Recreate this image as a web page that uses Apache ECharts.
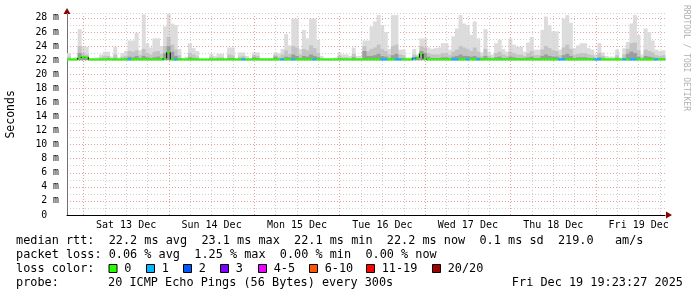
<!DOCTYPE html>
<html><head><meta charset="utf-8">
<script src="https://cdn.jsdelivr.net/npm/echarts@6/dist/echarts.min.js"></script>
<style>html,body{margin:0;padding:0;background:#fff}#c{width:697px;height:297px}</style>
</head><body><div id="c"></div>
<script>
// ---- data: hourly bins from Fri Dec 12 19:23:27 to Fri Dec 19 19:23:27 ----
const binCount = 168;
const firstMidnightHour = 4.609;       // hours from chart start to Sat 13 Dec 00:00
const dayLabels = ['Sat 13 Dec','Sun 14 Dec','Mon 15 Dec','Tue 16 Dec','Wed 17 Dec','Thu 18 Dec','Fri 19 Dec'];

const smokeMax = [
23.0,22.3,22.4,26.4,24.0,23.9,22.3,22.3,22.4,22.8,23.2,23.2,
22.5,23.9,22.4,23.0,23.3,24.8,24.8,25.9,23.4,28.5,24.4,23.8,
25.1,25.1,24.0,26.8,28.6,27.2,27.0,23.6,22.3,22.5,24.4,23.7,
23.3,22.2,22.2,22.2,22.9,22.6,22.9,22.9,22.3,23.8,23.8,22.3,
23.1,23.1,22.6,22.3,23.1,23.1,22.3,22.3,22.3,22.3,23.1,23.0,
23.6,25.7,24.1,27.9,27.9,23.6,26.3,25.1,27.9,27.9,24.9,22.6,
22.3,22.3,22.3,22.4,23.1,22.8,22.8,22.6,23.8,22.6,22.6,24.8,
24.8,26.8,27.5,28.4,27.0,26.0,23.6,28.4,28.4,23.5,23.5,22.4,
22.4,23.6,22.8,25.1,25.1,23.8,23.6,23.7,23.8,24.4,24.4,23.5,
25.4,26.5,28.4,27.2,27.0,25.6,27.5,25.1,23.1,26.4,23.2,22.8,
24.4,24.9,23.6,23.2,25.1,24.2,23.9,23.9,23.2,24.5,25.3,23.5,
23.5,26.3,28.2,27.0,26.1,26.1,23.5,27.9,28.4,27.3,23.7,24.1,
24.4,24.4,23.7,23.5,22.8,24.4,23.1,22.6,22.5,22.5,23.5,22.4,
23.7,24.6,27.2,28.4,25.6,22.8,26.5,26.0,24.8,23.5,23.3,23.4];

const smokeMid = [
22.5,22.2,22.2,24.0,23.0,22.8,22.2,22.2,22.2,22.4,22.6,22.6,
22.3,22.8,22.2,22.5,22.6,23.3,23.2,23.4,22.7,23.6,23.0,22.8,
23.2,23.3,22.9,24.0,25.3,24.2,23.5,22.7,22.2,22.3,23.0,22.8,
22.5,22.1,22.1,22.1,22.5,22.3,22.4,22.4,22.2,22.8,22.7,22.2,
22.5,22.6,22.3,22.2,22.7,22.6,22.2,22.2,22.2,22.2,22.8,22.5,
22.8,23.4,22.9,24.0,23.8,22.8,23.6,23.4,24.1,23.7,23.0,22.3,
22.2,22.2,22.2,22.2,22.6,22.4,22.4,22.3,22.9,22.3,22.3,24.0,
23.3,23.6,23.8,24.2,23.6,23.3,22.8,24.0,24.2,22.8,22.7,22.2,
22.2,22.8,22.5,24.0,23.8,23.0,22.8,22.8,22.8,23.0,23.0,22.7,
23.2,23.5,24.0,23.8,23.6,23.3,23.8,23.2,22.6,23.6,22.6,22.4,
23.0,23.2,22.8,22.6,23.2,23.0,22.8,22.8,22.6,23.0,23.3,22.7,
22.7,23.5,24.0,23.7,23.4,23.3,22.7,23.8,24.2,23.6,22.8,22.9,
23.0,23.0,22.8,22.7,22.4,23.0,22.6,22.3,22.3,22.3,22.7,22.2,
22.8,23.6,24.4,24.5,23.4,22.4,23.5,23.3,23.1,22.7,22.6,22.7];

const smokeCore = [
22.2,22.1,22.1,23.0,22.4,22.3,22.1,22.1,22.1,22.2,22.2,22.3,
22.1,22.3,22.1,22.2,22.3,22.5,22.4,22.6,22.3,22.6,22.4,22.3,
22.4,22.5,22.3,23.0,24.0,23.2,22.6,22.3,22.1,22.1,22.4,22.3,
22.2,22.1,22.1,22.1,22.2,22.1,22.2,22.2,22.1,22.3,22.3,22.1,
22.2,22.3,22.1,22.1,22.4,22.3,22.1,22.1,22.1,22.1,22.5,22.2,
22.3,22.5,22.4,22.8,22.6,22.3,22.6,22.5,22.8,22.6,22.4,22.1,
22.1,22.1,22.1,22.1,22.3,22.2,22.2,22.1,22.4,22.1,22.1,23.3,
22.6,22.6,22.7,22.9,22.6,22.5,22.3,22.7,22.9,22.3,22.3,22.1,
22.1,22.4,22.3,23.3,23.0,22.5,22.3,22.3,22.3,22.4,22.4,22.3,
22.5,22.6,22.8,22.6,22.6,22.5,22.6,22.4,22.3,22.6,22.3,22.2,
22.4,22.5,22.3,22.3,22.5,22.4,22.3,22.3,22.3,22.4,22.5,22.3,
22.3,22.6,22.8,22.6,22.5,22.5,22.3,22.7,22.9,22.6,22.3,22.4,
22.4,22.4,22.3,22.3,22.2,22.4,22.3,22.1,22.1,22.1,22.3,22.1,
22.3,22.9,23.2,23.0,22.5,22.2,22.6,22.5,22.4,22.3,22.3,22.3];

const medianRtt = [
22.1,22.1,22.1,22.3,22.45,22.4,22.1,22.1,22.1,22.1,22.1,22.1,
22.1,22.1,22.1,22.1,22.1,22.1,22.1,22.1,22.1,22.1,22.1,22.1,
22.1,22.1,22.1,22.25,23.1,22.1,22.1,22.1,22.1,22.1,22.1,22.1,
22.1,22.1,22.1,22.1,22.1,22.1,22.1,22.1,22.1,22.1,22.1,22.1,
22.1,22.1,22.1,22.1,22.1,22.1,22.1,22.1,22.1,22.1,22.1,22.1,
22.1,22.1,22.1,22.1,22.1,22.1,22.1,22.1,22.1,22.1,22.1,22.1,
22.1,22.1,22.1,22.1,22.1,22.1,22.1,22.1,22.1,22.1,22.1,22.1,
22.1,22.1,22.1,22.1,22.1,22.1,22.1,22.1,22.1,22.1,22.1,22.1,
22.1,22.25,22.35,22.9,22.2,22.1,22.1,22.1,22.1,22.1,22.1,22.1,
22.1,22.1,22.1,22.1,22.1,22.1,22.1,22.1,22.1,22.1,22.1,22.1,
22.1,22.1,22.1,22.1,22.1,22.1,22.1,22.1,22.1,22.1,22.1,22.1,
22.1,22.1,22.1,22.1,22.1,22.1,22.1,22.1,22.1,22.1,22.1,22.1,
22.1,22.1,22.1,22.1,22.1,22.1,22.1,22.1,22.1,22.1,22.1,22.1,
22.1,22.1,22.1,22.1,22.1,22.1,22.1,22.1,22.1,22.1,22.1,22.1];

const lostPings = [
0,0,0,0,0,0,0,0,0,0,0,0,
0,0,0,0,0,1,0,0,0,0,0,0,
0,0,0,0,0,0,1,0,0,0,0,0,
0,0,0,0,0,0,0,0,0,0,0,0,
0,1,0,0,0,0,0,0,0,0,0,0,
1,0,0,1,0,0,0,0,0,1,0,0,
0,0,0,0,0,0,0,0,0,0,0,0,
0,0,0,0,1,1,0,0,1,1,0,0,
0,1,0,0,0,0,0,0,0,0,0,0,
1,1,0,0,1,0,0,1,0,0,0,0,
0,0,0,0,0,0,0,0,0,0,0,0,
0,0,0,0,0,0,1,1,0,0,0,0,
0,0,0,0,1,1,0,0,0,0,0,0,
1,0,1,1,0,0,0,0,0,1,0,0];

const lossLegend = ['0','1','2','3','4-5','6-10','11-19','20/20'];
const lossColors = ['#26ff00','#00b8ff','#0059ff','#7e00ff','#ee00ff','#ff5500','#ff0000','#a10000'];
const smokeFloor = 22.0;

const statLine1 = 'median rtt:  22.2 ms avg  23.1 ms max  22.1 ms min  22.2 ms now  0.1 ms sd  219.0   am/s';
const statLine2 = 'packet loss: 0.06 % avg  1.25 % max  0.00 % min  0.00 % now';
const probeText = '20 ICMP Echo Pings (56 Bytes) every 300s';
const dateText = 'Fri Dec 19 19:23:27 2025';

// ---- build ----
const MONO = '"DejaVu Sans Mono", monospace';
function layer(top) { return top.map((v, i) => [i, smokeFloor, v]); }
function rectItem(color) {
  return function (params, api) {
    const p0 = api.coord([api.value(0), api.value(1)]);
    const p1 = api.coord([api.value(0) + 1, api.value(2)]);
    return { type: 'rect', shape: { x: p0[0], y: p1[1], width: p1[0] - p0[0] + 0.4, height: p0[1] - p1[1] },
             style: { fill: color } };
  };
}
const medianData = medianRtt.map((v, i) => [i, v, lostPings[i], i > 0 ? medianRtt[i - 1] : v]);

const gridLines = [];
for (let t = firstMidnightHour, j = 0; t < binCount; t += 6, j++) {
  const major = j % 4 === 0;
  gridLines.push({ xAxis: t, label: { show: false },
    lineStyle: { color: major ? '#e6a0a0' : '#cfcfcf', type: [1, 2], width: 1 } });
}
dayLabels.forEach((name, k) => {
  gridLines.push({ xAxis: firstMidnightHour + 12 + 24 * k, name: name,
    lineStyle: { color: 'rgba(0,0,0,0)', width: 0 },
    label: { show: true, position: 'start', formatter: name, color: '#000', fontFamily: MONO, fontSize: 10, distance: 5 } });
});

const graphics = [];
const textLine = (x, y, text, extra) => graphics.push(Object.assign({ type: 'text', x: x, y: y,
  style: { text: text, font: '11.85px ' + MONO, fill: '#000', textVerticalAlign: 'middle' } }, extra || {}));
textLine(16, 241, statLine1);
textLine(16, 255, statLine2);
textLine(16, 269, 'loss color:');
textLine(16, 283, 'probe:');
textLine(108, 283, probeText);
graphics.push({ type: 'text', x: 683, y: 283, style: { text: dateText, font: '11.85px ' + MONO, fill: '#000', textAlign: 'right', textVerticalAlign: 'middle' } });
const boxX = [108.5, 146, 183, 220, 258, 309, 366, 432];
lossLegend.forEach((lab, k) => {
  graphics.push({ type: 'rect', shape: { x: boxX[k] + 0.5, y: 264.5, width: 8, height: 8 },
    style: { fill: lossColors[k], stroke: '#000', lineWidth: 1 } });
  textLine(boxX[k] + 15.7, 269, lab);
});
graphics.push({ type: 'text', x: 686, y: 5, rotation: -Math.PI / 2,
  style: { text: 'RRDTOOL / TOBI OETIKER', font: '8px ' + MONO, fill: '#b0b0b0', textVerticalAlign: 'middle' } });
// axis arrows (decoration)
graphics.push({ type: 'polygon', shape: { points: [[666, 211.5], [672, 215], [666, 218.5]] }, style: { fill: '#8b0000' } });
graphics.push({ type: 'polygon', shape: { points: [[63.5, 14], [67, 8], [70.5, 14]] }, style: { fill: '#8b0000' } });

const chart = echarts.init(document.getElementById('c'), null, { renderer: 'canvas' });
chart.setOption({
  backgroundColor: '#ffffff',
  animation: false,
  grid: { left: 67, right: 32, top: 13.7, bottom: 82, containLabel: false, outerBoundsMode: 'none' },
  xAxis: { type: 'value', min: 0, max: binCount,
    axisLine: { show: true, lineStyle: { color: '#000', width: 1 } },
    axisTick: { show: false }, axisLabel: { show: false }, splitLine: { show: false } },
  yAxis: { type: 'value', min: 0, max: 28.6, interval: 1,
    name: 'Seconds', nameLocation: 'middle', nameGap: 50, nameRotate: 90,
    nameTextStyle: { fontFamily: MONO, fontSize: 11.5, color: '#000' },
    axisLine: { show: true, lineStyle: { color: '#707070' } },
    axisTick: { show: false },
    axisLabel: { fontFamily: MONO, fontSize: 9.8, color: '#000', margin: 8, showMaxLabel: false,
      formatter: v => (Math.abs(v - Math.round(v)) < 1e-6 && Math.round(v) % 2 === 0) ? (v === 0 ? '0  ' : Math.round(v) + ' m') : '' },
    splitLine: { show: true, lineStyle: { color: ['#e6a0a0', '#d0d0d0'], type: [1, 2], width: 1 } } },
  graphic: graphics,
  series: [
    { type: 'line', data: [], z: 1, silent: true,
      markLine: { silent: true, symbol: ['none', 'none'], animation: false, data: gridLines } },
    { type: 'custom', z: 3, silent: true, renderItem: rectItem('#dcdcdc'), data: layer(smokeMax), encode: { x: 0, y: [1, 2] } },
    { type: 'custom', z: 4, silent: true, renderItem: rectItem('#c3c3c3'), data: layer(smokeMid), encode: { x: 0, y: [1, 2] } },
    { type: 'custom', z: 5, silent: true, renderItem: rectItem('#9c9c9c'), data: layer(smokeCore), encode: { x: 0, y: [1, 2] } },
    { type: 'custom', z: 6, silent: true, data: medianData, encode: { x: 0, y: 1 },
      renderItem: function (params, api) {
        const i = api.value(0), m = api.value(1), loss = api.value(2), prev = api.value(3);
        const a = api.coord([i, m]), b = api.coord([i + 1, m]);
        const children = [{ type: 'line', shape: { x1: a[0], y1: a[1], x2: b[0] + 0.3, y2: b[1] },
          style: { stroke: lossColors[loss], lineWidth: 2 } }];
        if (prev !== m) {
          const c = api.coord([i, prev]);
          children.push({ type: 'line', shape: { x1: a[0], y1: c[1], x2: a[0], y2: a[1] }, style: { stroke: '#000', lineWidth: 1 } });
        }
        return { type: 'group', children: children };
      } }
  ]
});
</script></body></html>
